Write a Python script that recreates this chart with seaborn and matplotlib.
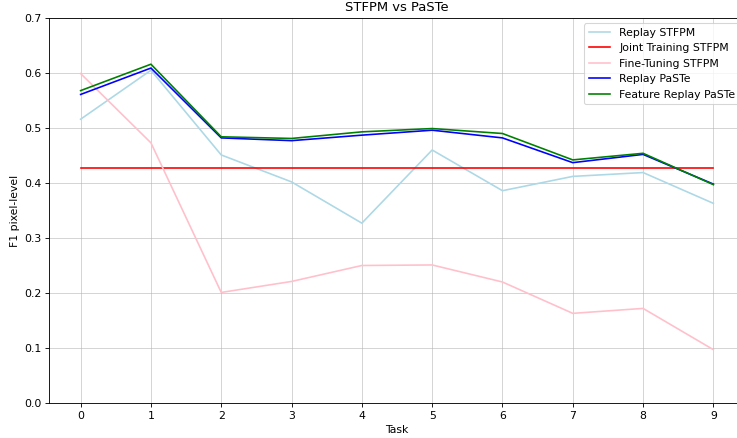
import numpy as np
import pandas as pd
import matplotlib
matplotlib.use("Agg")
import matplotlib.pyplot as plt
import seaborn as sns

tasks = list(range(10))
replay_stfpm = [0.516, 0.605, 0.451, 0.402, 0.327, 0.460, 0.386, 0.412, 0.419, 0.363]
joint_stfpm = [0.427] * 10
finetune_stfpm = [0.599, 0.473, 0.201, 0.221, 0.250, 0.251, 0.220, 0.163, 0.172, 0.097]
replay_paste = [0.561, 0.609, 0.482, 0.477, 0.487, 0.496, 0.482, 0.437, 0.452, 0.398]
feature_replay_paste = [0.568, 0.616, 0.484, 0.481, 0.493, 0.499, 0.490, 0.442, 0.454, 0.397]

series_names = ["Replay STFPM", "Joint Training STFPM", "Fine-Tuning STFPM",
                "Replay PaSTe", "Feature Replay PaSTe"]
series_values = [replay_stfpm, joint_stfpm, finetune_stfpm, replay_paste, feature_replay_paste]
colors = ["lightblue", "red", "pink", "blue", "green"]

rows = []
for name, vals in zip(series_names, series_values):
    for t, v in zip(tasks, vals):
        rows.append({"Task": t, "F1 pixel-level": v, "Method": name})
df = pd.DataFrame(rows)

DPI = 78.5
fig = plt.figure(figsize=(737 / DPI, 438 / DPI), dpi=DPI)
ax = fig.add_axes([49 / 737, 35 / 438, 696 / 737, 385 / 438])
sns.lineplot(data=df, x="Task", y="F1 pixel-level", hue="Method",
             palette=dict(zip(series_names, colors)), hue_order=series_names,
             linewidth=1.5, ax=ax)
ax.set_ylim(0, 0.7)
ax.set_xlim(-0.45, 9.45)
ax.set_xticks(tasks)
ax.grid(True, color="#b0b0b0", alpha=0.6, linewidth=0.8)
ax.set_title("STFPM vs PaSTe")
ax.set_xlabel("Task")
ax.set_ylabel("F1 pixel-level")
ax.legend(loc="upper right", title=None)
fig.savefig("out.png", dpi=DPI)
